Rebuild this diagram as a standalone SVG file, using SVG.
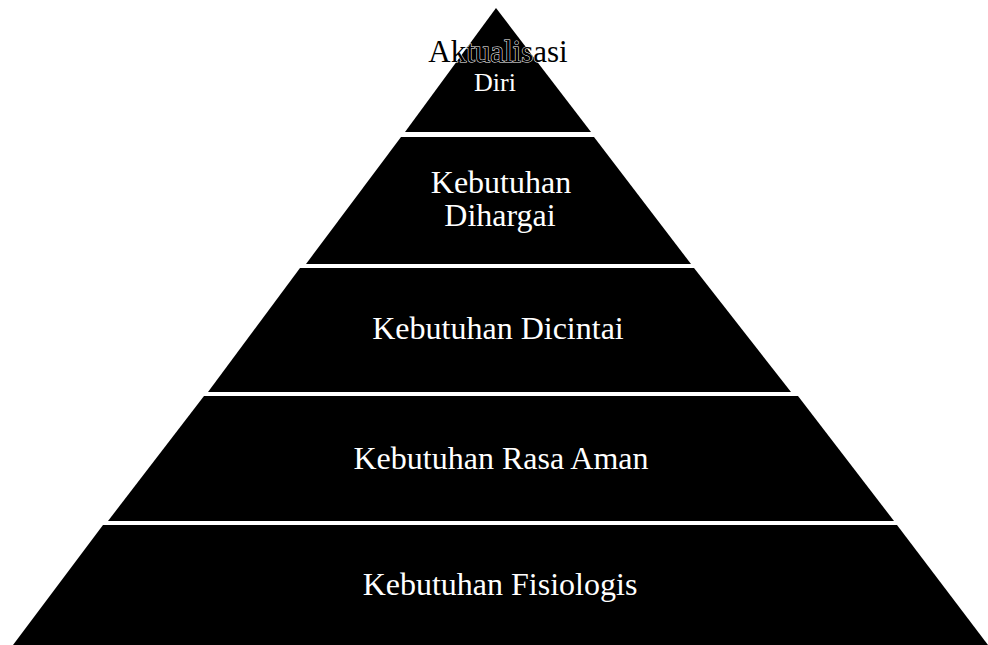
<svg xmlns="http://www.w3.org/2000/svg" width="988" height="645" viewBox="0 0 988 645">
  <style>
    .band { fill: #000000; }
    .lbl { font-family: "Liberation Serif", "Times New Roman", serif; font-size: 32px; fill: #ffffff; text-anchor: middle; }
    .top { font-family: "Liberation Serif", "Times New Roman", serif; font-size: 31px; fill: #000000; stroke: #ffffff; stroke-width: 1px; paint-order: stroke; text-anchor: middle; }
  </style>
  <rect x="0" y="0" width="988" height="645" fill="#ffffff"/>
  <g id="connectors"></g>
  <g id="aktualisasi-diri">
    <polygon class="band" points="496,8 591,132 405,132"/>
    <text class="top" x="498" y="62">Aktualisasi</text>
    <text class="lbl" x="495" y="91" style="font-size:26px">Diri</text>
  </g>
  <g id="kebutuhan-dihargai">
    <polygon class="band" points="401,137 594,137 691,264 306,264"/>
    <text class="lbl" x="501" y="193">Kebutuhan</text>
    <text class="lbl" x="500" y="226">Dihargai</text>
  </g>
  <g id="kebutuhan-dicintai">
    <polygon class="band" points="300,268 694,268 791,392 208,392"/>
    <text class="lbl" x="498" y="339">Kebutuhan Dicintai</text>
  </g>
  <g id="kebutuhan-rasa-aman">
    <polygon class="band" points="204,396 798,396 894,521 108,521"/>
    <text class="lbl" x="501" y="469">Kebutuhan Rasa Aman</text>
  </g>
  <g id="kebutuhan-fisiologis">
    <polygon class="band" points="103,525 897,525 988,645 13,645"/>
    <text class="lbl" x="500" y="595">Kebutuhan Fisiologis</text>
  </g>
</svg>
